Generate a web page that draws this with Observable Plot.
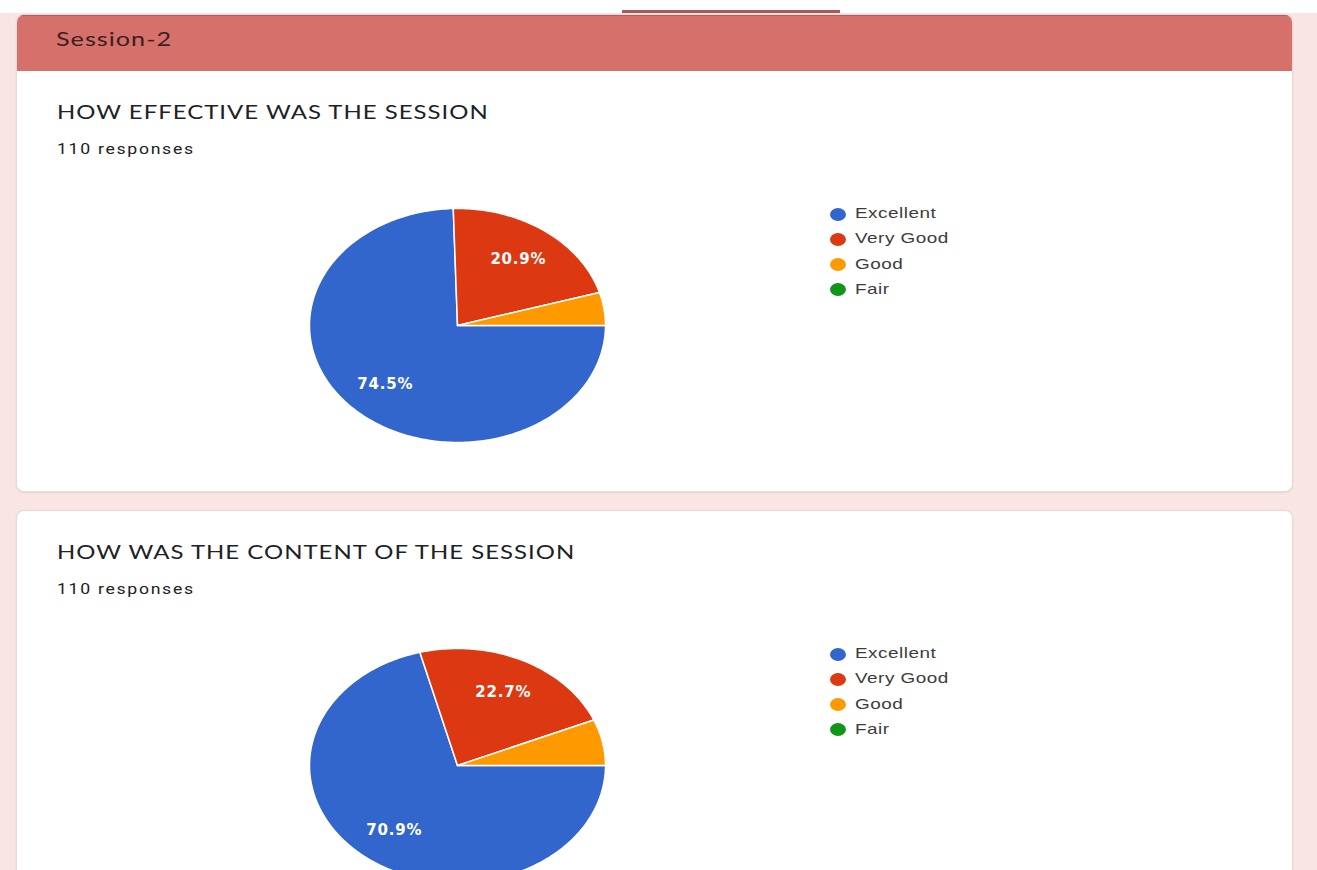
<!DOCTYPE html>
<html><head><meta charset="utf-8">
<script src="https://cdn.jsdelivr.net/npm/d3@7"></script>
<script src="https://cdn.jsdelivr.net/npm/@observablehq/plot@0.6"></script>
<style>
html,body{margin:0;padding:0;}
body{width:1317px;height:870px;overflow:hidden;background:#fff;position:relative;font-family:"Liberation Sans",Arial,sans-serif;}
#bg{position:absolute;left:0;top:13px;width:1317px;height:857px;background:#f9e6e4;}
#tab{position:absolute;left:622px;top:10px;width:218px;height:3px;background:#a85a56;}
.card{position:absolute;left:16px;width:1277px;background:#fff;border:1px solid #e6dad9;border-radius:8px;box-sizing:border-box;overflow:hidden;box-shadow:0 1px 2px rgba(0,0,0,.08);}
.head{position:absolute;left:0;top:0;width:100%;height:56px;background:#d5706b;border-top:1px solid #b45d59;box-sizing:border-box;}
.t{position:absolute;white-space:nowrap;transform:scaleX(1.26);transform-origin:0 0;}
.sec{font-family:Lato,sans-serif;font-size:20px;line-height:20px;color:#3a2020;letter-spacing:0.8px;}
.title{font-family:Lato,sans-serif;font-size:19px;line-height:19px;color:#202124;letter-spacing:0.8px;}
.resp{font-family:Roboto,sans-serif;font-size:14px;line-height:14px;color:#202124;letter-spacing:1.35px;}
.leg{font-family:"Liberation Sans",Arial,sans-serif;font-size:15px;line-height:15px;color:#3c3c3c;letter-spacing:0.4px;}
.dot{position:absolute;width:16px;height:13px;border-radius:50%;}
.pie{position:absolute;}
.pie text{letter-spacing:0.8px;}
</style>
</head><body>
<div id="bg"></div>
<div id="tab"></div>
<script>
// ---- data ----
const categories = ["Excellent", "Very Good", "Good", "Fair"];
const colors = ["#3366cc", "#dc3912", "#ff9900", "#109618"];
const sectionTitle = "Session-2";
const questionTitles = ["HOW EFFECTIVE WAS THE SESSION", "HOW WAS THE CONTENT OF THE SESSION"];
const responseLabels = ["110 responses", "110 responses"];
const effectiveCounts = [82, 23, 5, 0];
const contentCounts = [78, 25, 7, 0];
const questionCounts = [effectiveCounts, contentCounts];

// ---- layout ----
const cardTops = [14, 510];
const cardHeights = [478, 420];
const qOffset = [0, 440];

function el(tag, cls, parent, style, text) {
  const e = document.createElement(tag);
  if (cls) e.className = cls;
  Object.assign(e.style, style || {});
  if (text != null) e.textContent = text;
  (parent || document.body).appendChild(e);
  return e;
}

function drawPie(counts) {
  const total = d3.sum(counts);
  const arcs = d3.pie().sort(null).startAngle(Math.PI / 2).endAngle(Math.PI / 2 + 2 * Math.PI)(counts);
  const polys = [];
  arcs.forEach((a, i) => {
    if (a.value === 0) return;
    const n = Math.max(2, Math.ceil((a.endAngle - a.startAngle) / (Math.PI / 180)));
    polys.push({cat: categories[i], x: 0, y: 0});
    for (let k = 0; k <= n; k++) {
      const t = a.startAngle + (a.endAngle - a.startAngle) * k / n;
      polys.push({cat: categories[i], x: Math.sin(t), y: Math.cos(t)});
    }
  });
  const labels = arcs.filter(a => a.value / total >= 0.1).map(a => {
    const m = (a.startAngle + a.endAngle) / 2;
    return {x: 0.7 * Math.sin(m), y: 0.7 * Math.cos(m), text: (a.value / total * 100).toFixed(1) + "%"};
  });
  return Plot.plot({
    width: 320, height: 260,
    marginLeft: 12, marginRight: 12, marginTop: 13, marginBottom: 13,
    x: {domain: [-1, 1], axis: null},
    y: {domain: [-1, 1], axis: null},
    color: {domain: categories, range: colors},
    style: {background: "transparent", overflow: "visible"},
    marks: [
      Plot.line(polys, {x: "x", y: "y", z: "cat", fill: "cat", stroke: "white", strokeWidth: 1.5, curve: "linear-closed"}),
      Plot.text(labels, {x: "x", y: "y", text: "text", fill: "white", fontSize: 15, fontWeight: "bold", fontFamily: "DejaVu Sans, sans-serif"})
    ]
  });
}

cardTops.forEach((top, q) => {
  el("div", "card", null, {top: top + "px", height: cardHeights[q] + "px"});
});
el("div", "head", document.querySelector(".card"));
el("div", "t sec", null, {left: "56px", top: "28px"}, sectionTitle);

questionTitles.forEach((title, q) => {
  const o = qOffset[q];
  el("div", "t title", null, {left: "57px", top: (102 + o) + "px"}, title);
  el("div", "t resp", null, {left: "57px", top: (142 + o) + "px"}, responseLabels[q]);
  const wrap = el("div", "pie", null, {left: "297px", top: (195 + o) + "px"});
  wrap.appendChild(drawPie(questionCounts[q]));
  categories.forEach((c, i) => {
    el("div", "dot", null, {left: "830px", top: (207.5 + o + i * 25.3) + "px", background: colors[i]});
    el("div", "t leg", null, {left: "855px", top: (205 + o + i * 25.4) + "px"}, c);
  });
});
</script>
</body></html>
